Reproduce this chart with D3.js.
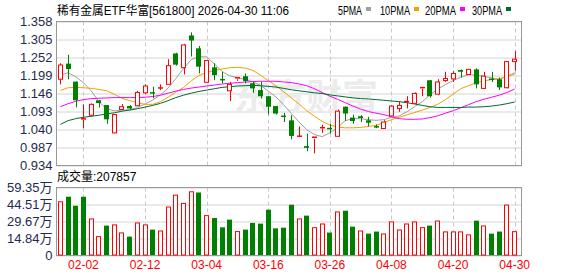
<!DOCTYPE html>
<html>
<head>
<meta charset="utf-8">
<script src="https://cdn.jsdelivr.net/npm/d3@7"></script>
<style>
body { margin: 0; background: #fff; }
text { font-family: "Liberation Sans", "Noto Sans CJK SC", sans-serif; }
</style>
</head>
<body>
<svg width="578" height="276"></svg>
<script>
// trading days shown, 2026-01-28 .. 2026-04-30
var dates = ["01-28","01-29","01-30","02-02","02-03","02-04","02-05","02-06","02-09","02-10",
  "02-11","02-12","02-13","02-24","02-25","02-26","02-27","03-02","03-03","03-04",
  "03-05","03-06","03-09","03-10","03-11","03-12","03-13","03-16","03-17","03-18",
  "03-19","03-20","03-23","03-24","03-25","03-26","03-27","03-30","03-31","04-01",
  "04-02","04-03","04-07","04-08","04-09","04-10","04-13","04-14","04-15","04-16",
  "04-17","04-20","04-21","04-22","04-23","04-24","04-27","04-28","04-29","04-30"];

var opens = [1.188,1.234,1.181,1.068,1.082,1.126,1.112,1.030,1.099,1.109,
  1.110,1.148,1.150,1.161,1.173,1.264,1.222,1.317,1.279,1.179,
  1.223,1.189,1.154,1.188,1.197,1.176,1.156,1.138,1.109,1.081,
  1.067,1.019,0.991,1.013,1.043,1.045,1.020,1.107,1.075,1.079,
  1.067,1.050,1.043,1.080,1.102,1.121,1.117,1.160,1.185,1.144,
  1.184,1.189,1.215,1.202,1.217,1.161,1.190,1.188,1.163,1.240];
var closes = [1.230,1.218,1.126,1.072,1.114,1.118,1.070,1.084,1.107,1.102,
  1.149,1.168,1.148,1.163,1.228,1.231,1.289,1.302,1.225,1.243,
  1.200,1.187,1.173,1.193,1.183,1.161,1.138,1.107,1.087,1.079,
  1.021,1.021,0.986,1.018,1.046,1.043,1.094,1.087,1.065,1.074,
  1.060,1.049,1.062,1.109,1.111,1.123,1.146,1.164,1.138,1.180,
  1.190,1.205,1.210,1.217,1.173,1.197,1.188,1.164,1.240,1.247];
var highs = [1.235,1.260,1.181,1.114,1.117,1.127,1.112,1.085,1.115,1.112,
  1.154,1.173,1.166,1.173,1.247,1.266,1.292,1.326,1.286,1.243,
  1.235,1.210,1.180,1.193,1.205,1.180,1.180,1.138,1.109,1.089,
  1.082,1.049,1.028,1.018,1.054,1.057,1.099,1.108,1.084,1.082,
  1.077,1.055,1.067,1.112,1.123,1.138,1.149,1.164,1.186,1.188,
  1.210,1.212,1.217,1.218,1.220,1.210,1.210,1.193,1.240,1.271];
var lows = [1.173,1.188,1.105,1.044,1.077,1.105,1.057,1.029,1.098,1.098,
  1.109,1.144,1.132,1.156,1.172,1.228,1.202,1.255,1.205,1.178,
  1.185,1.176,1.124,1.183,1.176,1.148,1.131,1.084,1.084,1.062,
  1.011,1.018,0.976,0.970,1.030,1.028,1.019,1.065,1.057,1.062,
  1.049,1.044,1.042,1.079,1.092,1.102,1.116,1.138,1.134,1.141,
  1.180,1.180,1.193,1.201,1.161,1.159,1.180,1.156,1.161,1.213];
var prevClose = 1.20;

// volume, 万
var volumes = [46.9,51.3,43.4,51.3,31.9,16.5,26.1,26.7,19.7,16.5,
  28.4,26.7,22.6,21.4,42.3,52.7,45.5,55.6,55.0,34.8,
  32.7,24.6,31.3,20.9,22.6,28.4,27.8,40.0,23.7,24.3,
  44.3,31.9,34.8,24.3,27.5,20.0,38.0,39.1,25.2,21.4,
  19.1,20.9,18.8,29.3,22.3,27.5,29.3,24.3,26.1,30.1,
  20.6,20.6,20.6,18.0,30.4,25.8,19.1,20.9,44.0,20.79];

var ma5 = [1.200,1.207,1.195,1.178,1.154,1.122,1.101,1.095,1.097,1.098,
  1.105,1.115,1.127,1.142,1.162,1.190,1.220,1.246,1.254,1.254,
  1.233,1.211,1.198,1.193,1.187,1.180,1.170,1.153,1.136,1.113,
  1.087,1.062,1.039,1.025,1.019,1.030,1.046,1.066,1.072,1.072,
  1.069,1.067,1.069,1.076,1.080,1.092,1.107,1.122,1.142,1.159,
  1.172,1.184,1.194,1.201,1.200,1.197,1.192,1.188,1.197,1.207];
var ma10 = [1.155,1.163,1.164,1.163,1.161,1.158,1.154,1.144,1.132,1.125,
  1.119,1.114,1.114,1.122,1.135,1.150,1.164,1.183,1.199,1.208,
  1.214,1.218,1.222,1.223,1.221,1.214,1.200,1.184,1.169,1.151,
  1.133,1.115,1.095,1.079,1.064,1.053,1.047,1.045,1.045,1.046,
  1.049,1.052,1.060,1.069,1.076,1.083,1.090,1.097,1.105,1.114,
  1.128,1.144,1.160,1.169,1.177,1.183,1.187,1.188,1.196,1.203];
var ma20 = [1.107,1.116,1.123,1.128,1.131,1.132,1.133,1.134,1.134,1.134,
  1.134,1.135,1.137,1.141,1.147,1.153,1.158,1.162,1.165,1.168,
  1.171,1.174,1.176,1.178,1.180,1.181,1.182,1.182,1.182,1.180,
  1.178,1.174,1.169,1.160,1.149,1.138,1.129,1.119,1.109,1.100,
  1.093,1.088,1.084,1.077,1.072,1.070,1.070,1.071,1.075,1.080,
  1.088,1.095,1.104,1.113,1.122,1.129,1.135,1.141,1.149,1.159];
var ma30 = [1.055,1.066,1.072,1.076,1.079,1.082,1.086,1.089,1.094,1.097,
  1.101,1.106,1.111,1.117,1.125,1.134,1.141,1.147,1.152,1.156,
  1.160,1.164,1.166,1.168,1.169,1.170,1.169,1.167,1.165,1.161,
  1.157,1.154,1.151,1.148,1.146,1.142,1.139,1.136,1.133,1.131,
  1.130,1.128,1.126,1.124,1.122,1.119,1.115,1.111,1.107,1.105,
  1.105,1.105,1.105,1.106,1.106,1.107,1.109,1.112,1.116,1.121];

var priceTicks = [0.934,0.987,1.040,1.093,1.146,1.199,1.252,1.305,1.358];
var volTicks = [0,14.84,29.67,44.51,59.35];
var dateTicks = ["02-02","02-12","03-04","03-16","03-26","04-08","04-20","04-30"];

var title = "稀有金属ETF华富[561800] 2026-04-30 11:06";
var volTitle = "成交量:207857";
var maNames = ["5PMA","10PMA","20PMA","30PMA"];
var maColors = ["#a0a0a0","#f5a000","#ff00ff","#006a32"];

var UP = "#ff0000", DOWN = "#008000";

var svg = d3.select("svg");
var left = 56.5, right = 521.5;
var pTop = 21.5, pBot = 165.5, vTop = 187.5, vBot = 255.5;

var x = d3.scaleBand().domain(dates).range([56.5, 518.5]).paddingInner(0.35).paddingOuter(0.175);
var bw = x.bandwidth();
function cx(d) { return x(d) + bw / 2; }

var yP = d3.scaleLinear().domain([0.934, 1.358]).range([pBot, pTop]);
var yV = d3.scaleLinear().domain([0, 59.35]).range([vBot, vTop]);

// horizontal grids
svg.append("g").attr("transform", "translate(" + left + ",0)")
  .call(d3.axisRight(yP).tickValues(priceTicks).tickSize(right - left).tickFormat(""))
  .call(function(g){ g.select(".domain").remove(); g.selectAll("line").attr("stroke", "#d4d4d4"); });
svg.append("g").attr("transform", "translate(" + left + ",0)")
  .call(d3.axisRight(yV).tickValues(volTicks).tickSize(right - left).tickFormat(""))
  .call(function(g){ g.select(".domain").remove(); g.selectAll("line").attr("stroke", "#d4d4d4"); });

// vertical dashed grids
[[pTop, pBot], [vTop, vBot]].forEach(function(p) {
  svg.append("g").selectAll("line").data(dateTicks).enter().append("line")
    .attr("x1", function(d){ return Math.round(cx(d)) + 0.5; })
    .attr("x2", function(d){ return Math.round(cx(d)) + 0.5; })
    .attr("y1", p[0]).attr("y2", p[1])
    .attr("stroke", "#c8c8c8").attr("stroke-dasharray", "4,3");
});

// watermark
svg.append("text").attr("x", 234).attr("y", 110)
  .style("font-family", "'Noto Sans CJK SC'").style("font-size", "36px").style("font-weight", "bold")
  .attr("fill", "#ececec").text("东方财富");

// borders
svg.append("rect").attr("x", left).attr("y", pTop).attr("width", right - left).attr("height", pBot - pTop)
  .attr("fill", "none").attr("stroke", "#999");
svg.append("rect").attr("x", left).attr("y", vTop).attr("width", right - left).attr("height", vBot - vTop)
  .attr("fill", "none").attr("stroke", "#999");

// MA lines
[ma5, ma10, ma20, ma30].forEach(function(arr, k) {
  var line = d3.line().x(function(v, i){ return cx(dates[i]); }).y(function(v){ return yP(v); });
  svg.append("path").datum(arr).attr("d", line)
    .attr("fill", "none").attr("stroke", maColors[k]).attr("stroke-width", 1);
});

// candles
var candles = svg.append("g");
dates.forEach(function(d, i) {
  var o = opens[i], c = closes[i], h = highs[i], l = lows[i];
  var up = c >= o;
  var col = up ? UP : DOWN;
  var xc = Math.round(cx(d)) + 0.5;
  var bx = Math.round(x(d));
  var top = yP(Math.max(o, c)), bot = yP(Math.min(o, c));
  var hgt = Math.max(1, bot - top);
  if (up) {
    candles.append("line").attr("x1", xc).attr("x2", xc).attr("y1", yP(h)).attr("y2", top).attr("stroke", col);
    candles.append("line").attr("x1", xc).attr("x2", xc).attr("y1", bot).attr("y2", yP(l)).attr("stroke", col);
    if (hgt < 2) {
      candles.append("rect").attr("x", bx).attr("y", top - 0.5).attr("width", 5).attr("height", 1.5).attr("fill", col);
    } else {
      candles.append("rect").attr("x", bx + 0.5).attr("y", top).attr("width", 4).attr("height", hgt)
        .attr("fill", "#fff").attr("stroke", col);
    }
  } else {
    candles.append("line").attr("x1", xc).attr("x2", xc).attr("y1", yP(h)).attr("y2", yP(l)).attr("stroke", col);
    candles.append("rect").attr("x", bx).attr("y", top).attr("width", 5).attr("height", Math.max(1.5, hgt)).attr("fill", col);
  }
});

// volume bars
var vg = svg.append("g");
dates.forEach(function(d, i) {
  var pc = i === 0 ? prevClose : closes[i - 1];
  var up = closes[i] >= pc;
  var bx = Math.round(x(d));
  var t = yV(volumes[i]);
  if (up) {
    vg.append("rect").attr("x", bx + 0.5).attr("y", t).attr("width", 4).attr("height", vBot - 0.5 - t)
      .attr("fill", "#fff").attr("stroke", UP);
  } else {
    vg.append("rect").attr("x", bx).attr("y", t).attr("width", 5).attr("height", vBot - 0.5 - t).attr("fill", DOWN);
  }
});

// axes labels
svg.append("g").attr("transform", "translate(" + left + ",0)")
  .call(d3.axisLeft(yP).tickValues(priceTicks).tickSize(0).tickPadding(4).tickFormat(d3.format(".3f")))
  .call(function(g){
    g.select(".domain").remove();
    g.selectAll("text").style("font-size", "13px").attr("fill", "#1f2a4d");
  });
svg.append("g").attr("transform", "translate(" + left + ",0)")
  .call(d3.axisLeft(yV).tickValues(volTicks).tickSize(0).tickPadding(4)
    .tickFormat(function(v){ return v === 0 ? "0" : v.toFixed(2) + "万"; }))
  .call(function(g){
    g.select(".domain").remove();
    g.selectAll("text").style("font-size", "13px").attr("fill", "#1f2a4d");
  });
svg.append("g").attr("transform", "translate(0," + vBot + ")")
  .call(d3.axisBottom(x).tickValues(dateTicks).tickSize(0).tickPadding(5))
  .call(function(g){
    g.select(".domain").remove();
    g.selectAll("text").style("font-size", "12px").attr("fill", "#ff0000");
  });

// title and legend
svg.append("text").attr("x", 57).attr("y", 15).style("font-size", "12px").attr("fill", "#000")
  .attr("textLength", 232).attr("lengthAdjust", "spacingAndGlyphs").text(title);
svg.append("text").attr("x", 57).attr("y", 181).style("font-size", "12px").attr("fill", "#000").text(volTitle);

var legX = [338, 380, 425, 472];
var legW = [24, 30, 31, 30];
maNames.forEach(function(n, k) {
  svg.append("text").attr("x", legX[k]).attr("y", 15).style("font-size", "12px").attr("fill", "#000")
    .attr("textLength", legW[k]).attr("lengthAdjust", "spacingAndGlyphs").text(n);
  svg.append("rect").attr("x", legX[k] + legW[k] + 4).attr("y", 7).attr("width", 5).attr("height", 4)
    .attr("fill", maColors[k]);
});
</script>
</body>
</html>
